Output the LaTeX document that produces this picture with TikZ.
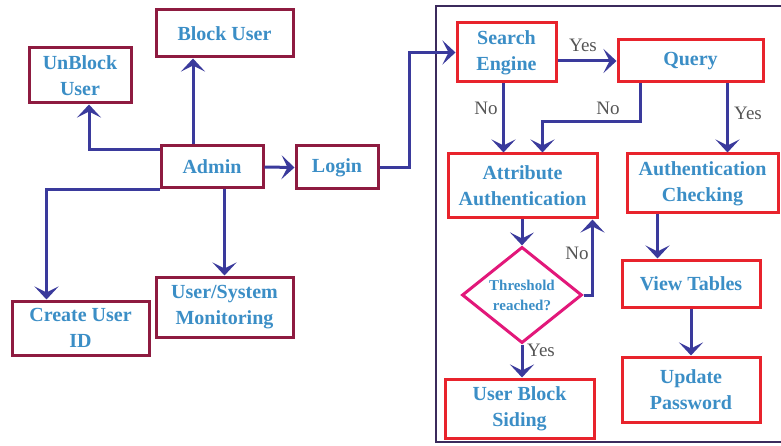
\documentclass[tikz,border=0pt]{standalone}
\usepackage{fontspec}
\setmainfont{Liberation Serif}
\usetikzlibrary{arrows.meta,shapes.geometric}
\definecolor{admred}{HTML}{8E1B40}
\definecolor{usrred}{HTML}{E8232C}
\definecolor{pinkish}{HTML}{E2187A}
\definecolor{txtblue}{HTML}{3B8EC6}
\definecolor{arrblue}{HTML}{3A3A9C}
\definecolor{lblgray}{HTML}{555555}
\definecolor{framecol}{HTML}{3B2A5C}
\begin{document}
\begin{tikzpicture}[x=1pt,y=-1pt,
   adm/.style={draw=admred,line width=3pt,text=txtblue,align=center,inner sep=0pt,
     font=\bfseries\fontsize{20}{26}\selectfont},
   usr/.style={adm,draw=usrred},
   flow/.style={draw=arrblue,line width=3pt,-{Stealth[length=13pt,width=24pt,inset=6pt]}},
   lbl/.style={text=lblgray,inner sep=0pt,font=\fontsize{19}{20}\selectfont}]
   \useasboundingbox (0,0) rectangle (781,446);

   %ADMIN SIDE
   \node (unblock) at (80,75.5) [adm,minimum width=102,minimum height=55] {UnBlock\\User};
   \node (block) at (224.5,33.5) [adm,minimum width=137,minimum height=47] {Block User};
   \node (admin) at (212,167) [adm,minimum width=102,minimum height=42] {Admin};
   \node (login) at (337,167.5) [adm,minimum width=82,minimum height=43] {Login};
   \node (create) at (80.5,328) [adm,minimum width=137,minimum height=54] {Create User\\ID};
   \node (monitor) at (224.5,307) [adm,minimum width=137,minimum height=60] {User/System\\Monitoring};

   \draw[flow] ([xshift=-19pt]admin.north) -- ([xshift=-19pt]admin.north |- block.south);
   \draw[flow] ([yshift=17pt]admin.west) -| ([xshift=9pt]unblock.south);
   \draw[flow] (admin.east) -- (login.west);
   \draw[flow] (admin.south west) -| ([xshift=-34pt]create.north);
   \draw[flow] (monitor.north |- admin.south) -- (monitor.north);

   %FRAME
   \draw[framecol,line width=2.5pt] (790,6) -| (436,442) -- (790,442);

   %USER SIDE
   \node (search) at (506.5,52.5) [usr,minimum width=99,minimum height=59] {Search\\Engine};
   \node (query) at (690.5,61) [usr,minimum width=145,minimum height=42] {Query};
   \node (attr) at (522.5,186) [usr,minimum width=149,minimum height=64] {Attribute\\Authentication};
   \node (authchk) at (702.5,183.5) [usr,minimum width=151,minimum height=59] {Authentication\\Checking};
   \node (thresh) at (522,295) [diamond,draw=pinkish,line width=3pt,text=txtblue,align=center,
     inner sep=0pt,minimum width=120,minimum height=86,
     font=\bfseries\fontsize{15}{20}\selectfont] {Threshold\\reached?};
   \node (usrblock) at (519.5,408.5) [usr,minimum width=149,minimum height=59] {User Block\\Siding};
   \node (view) at (691,283.5) [usr,minimum width=138,minimum height=47] {View Tables};
   \node (update) at (691,389.5) [usr,minimum width=138,minimum height=65] {Update\\Password};

   \draw[flow] (login.east) -- ++(30,0) |- (search.west);
   \draw[flow] (search.east |- query.west) -- (query.west);
   \draw[flow] ([xshift=-3pt]search.south) -- ([xshift=-3pt]search.south |- attr.north);
   \draw[flow] ([xshift=-50pt]query.south) -- ++(0,38) -| ([xshift=20pt]attr.north);
   \draw[flow] ([xshift=37pt]query.south) -- ([xshift=37pt]query.south |- authchk.north);
   \draw[flow] (attr.south -| thresh.north) -- (thresh.north);
   \draw[flow] (thresh.east) -| ([xshift=70pt]attr.south);
   \draw[flow] (thresh.south) -- (thresh.south |- usrblock.north);
   \draw[flow] ([xshift=-45pt]authchk.south) -- ([xshift=-45pt]authchk.south |- view.north);
   \draw[flow] (view.south) -- (view.south |- update.north);

   \node (yes1) at (583,45) [lbl] {Yes};
   \node (no1) at (486,108) [lbl] {No};
   \node (no2) at (608,108) [lbl] {No};
   \node (yes2) at (748,113) [lbl] {Yes};
   \node (no3) at (577,253) [lbl] {No};
   \node (yes3) at (541,350) [lbl] {Yes};
\end{tikzpicture}
\end{document}
